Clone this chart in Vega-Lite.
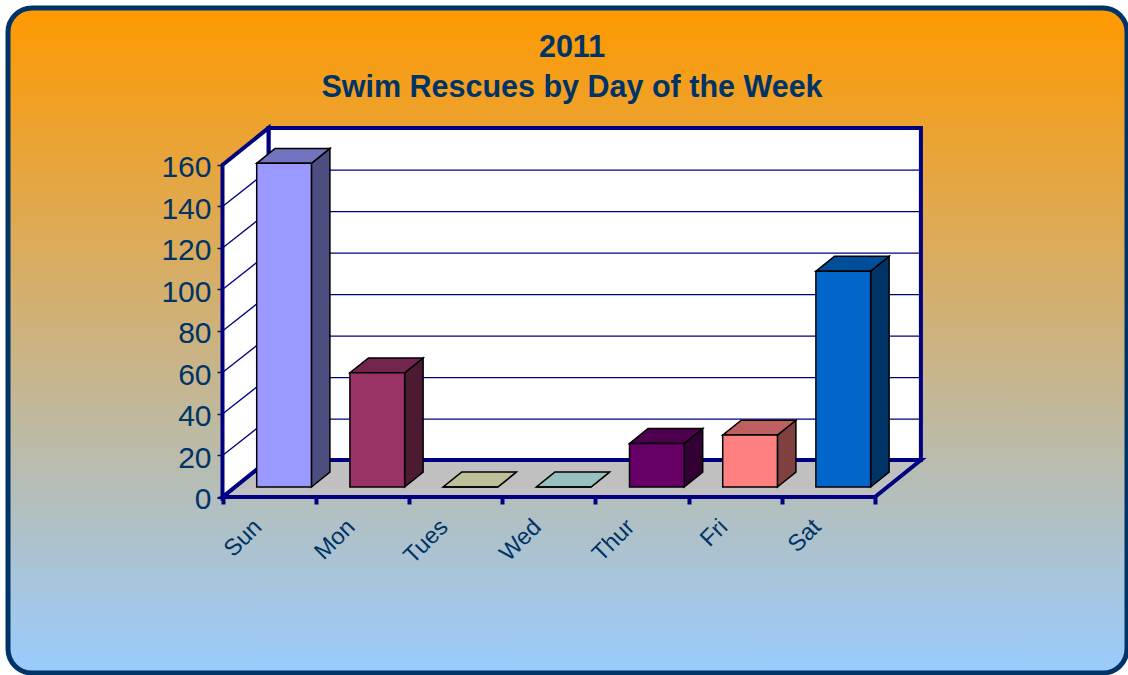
{
"$schema":"https://vega.github.io/schema/vega-lite/v6.json",
"width":1119,"height":665,
"autosize":{"type":"none"},
"padding":{"left":8,"top":8,"right":1,"bottom":2},
"background":"white",
"view":{"cornerRadius":24,"stroke":"#003366","strokeWidth":5,"fill":{"gradient":"linear","x1":0,"y1":0,"x2":0,"y2":1,"stops":[{"offset":0,"color":"#FF9900"},{"offset":1,"color":"#99CCFF"}]}},
"title":{"text":["2011","Swim Rescues by Day of the Week"],"font":"Liberation Sans","fontWeight":"bold","fontSize":30.5,"lineHeight":40,"color":"#003366","anchor":"middle","dx":4.5,"offset":-95.5},
"datasets":{
"rescues":[{"day":"Sun","rescues":156},{"day":"Mon","rescues":55},{"day":"Tues","rescues":0},{"day":"Wed","rescues":0},{"day":"Thur","rescues":21},{"day":"Fri","rescues":25},{"day":"Sat","rescues":104}],
"depth":[{"d":0},{"d":1}],
"ticks":[{"t":20},{"t":40},{"t":60},{"t":80},{"t":100},{"t":120},{"t":140}]
},
"encoding":{
"x":{"field":"px","type":"quantitative","scale":{"domain":[-2.3015,9.7049],"nice":false,"zero":false},
"axis":{"orient":"bottom","offset":-176,"title":null,"grid":false,"domain":false,"values":[0,1,2,3,4,5,6,7],"tickSize":7,"tickWidth":4,"tickColor":"#000080","labelExpr":"['Sun','Mon','Tues','Wed','Thur','Fri','Sat',''][datum.value]","labelAngle":-45,"labelAlign":"right","labelBaseline":"middle","labelOffset":35,"labelPadding":19,"labelFont":"Liberation Sans","labelFontSize":23.5,"labelColor":"#003366","labelOverlap":false,"labelBound":false,"labelFlush":false}},
"y":{"field":"py","type":"quantitative","scale":{"domain":[-84.82,235.66],"nice":false,"zero":false},
"axis":{"orient":"left","offset":-214,"title":null,"grid":false,"domain":false,"values":[0,20,40,60,80,100,120,140,160],"tickSize":5,"tickWidth":1.5,"tickColor":"#1a1a40","labelPadding":6,"labelOffset":3,"labelFont":"Liberation Sans","labelFontSize":30,"labelColor":"#003366","labelOverlap":false,"labelBound":false}}
},
"layer":[
{"data":{"name":"depth"},"transform":[{"calculate":"0.4936+7*datum.d","as":"px"},{"calculate":"17.83","as":"py"},{"calculate":"177.83","as":"py2"}],
"mark":{"type":"area","orient":"vertical","fill":"white","stroke":"#000080","strokeWidth":4},"encoding":{"y2":{"field":"py2"}}},
{"data":{"name":"depth"},"transform":[{"calculate":"0.4936*datum.d","as":"px"},{"calculate":"7+0.4936*datum.d","as":"px2"},{"calculate":"17.83*datum.d","as":"py"}],
"mark":{"type":"area","orient":"horizontal","fill":"#C0C0C0","stroke":"#000080","strokeWidth":4},"encoding":{"x2":{"field":"px2"}}},
{"data":{"name":"depth"},"transform":[{"calculate":"0.4936*datum.d","as":"px"},{"calculate":"17.83*datum.d","as":"py"},{"calculate":"160+17.83*datum.d","as":"py2"}],
"mark":{"type":"area","orient":"vertical","fill":"white","stroke":"#000080","strokeWidth":4},"encoding":{"y2":{"field":"py2"}}},
{"data":{"name":"ticks"},"transform":[{"calculate":"0.4936","as":"px"},{"calculate":"7.4936","as":"px2"},{"calculate":"datum.t+17.5","as":"py"}],
"mark":{"type":"rule","color":"#000080","strokeWidth":1.3},"encoding":{"x2":{"field":"px2"}}},
{"data":{"name":"ticks"},"transform":[{"calculate":"0","as":"px"},{"calculate":"0.4936","as":"px2"},{"calculate":"datum.t","as":"py"},{"calculate":"datum.t+17.5","as":"py2"}],
"mark":{"type":"rule","color":"#000080","strokeWidth":1.3},"encoding":{"x2":{"field":"px2"},"y2":{"field":"py2"}}},
{"data":{"name":"rescues"},"transform":[{"calculate":"indexof(['Sun','Mon','Tues','Wed','Thur','Fri','Sat'],datum.day)+0.954","as":"right"},{"calculate":"[0,1]","as":"d"},{"flatten":["d"]},{"calculate":"datum.right+0.1985*datum.d","as":"px"},{"calculate":"4.82+7.18*datum.d","as":"py"},{"calculate":"4.82+datum.rescues+7.18*datum.d","as":"py2"}],
"mark":{"type":"area","orient":"vertical","stroke":"black","strokeWidth":1.5},
"encoding":{"y2":{"field":"py2"},"color":{"field":"day","type":"nominal","legend":null,"scale":{"domain":["Sun","Mon","Tues","Wed","Thur","Fri","Sat"],"range":["#4D4D80","#4D1A33","#808066","#668080","#330033","#804040","#003366"]}}}},
{"data":{"name":"rescues"},"transform":[{"calculate":"indexof(['Sun','Mon','Tues','Wed','Thur','Fri','Sat'],datum.day)+0.367","as":"left"},{"calculate":"[0,1]","as":"d"},{"flatten":["d"]},{"calculate":"datum.left+0.1985*datum.d","as":"px"},{"calculate":"datum.left+0.587+0.1985*datum.d","as":"px2"},{"calculate":"4.82+datum.rescues+7.18*datum.d","as":"py"}],
"mark":{"type":"area","orient":"horizontal","stroke":"black","strokeWidth":1.5},
"encoding":{"x2":{"field":"px2"},"color":{"field":"day","type":"nominal","legend":null,"scale":{"domain":["Sun","Mon","Tues","Wed","Thur","Fri","Sat"],"range":["#7373BF","#73264D","#BFBF99","#99BFBF","#4D004D","#BF6060","#004D99"]}}}},
{"data":{"name":"rescues"},"transform":[{"calculate":"indexof(['Sun','Mon','Tues','Wed','Thur','Fri','Sat'],datum.day)+0.367","as":"px"},{"calculate":"datum.px+0.587","as":"px2"},{"calculate":"4.82","as":"py"},{"calculate":"4.82+datum.rescues","as":"py2"}],
"mark":{"type":"rect","stroke":"black","strokeWidth":1.5},
"encoding":{"x2":{"field":"px2"},"y2":{"field":"py2"},"color":{"field":"day","type":"nominal","legend":null,"scale":{"domain":["Sun","Mon","Tues","Wed","Thur","Fri","Sat"],"range":["#9999FF","#993366","#FFFFCC","#CCFFFF","#660066","#FF8080","#0066CC"]}}}}
],
"resolve":{"scale":{"color":"independent"}}
}
